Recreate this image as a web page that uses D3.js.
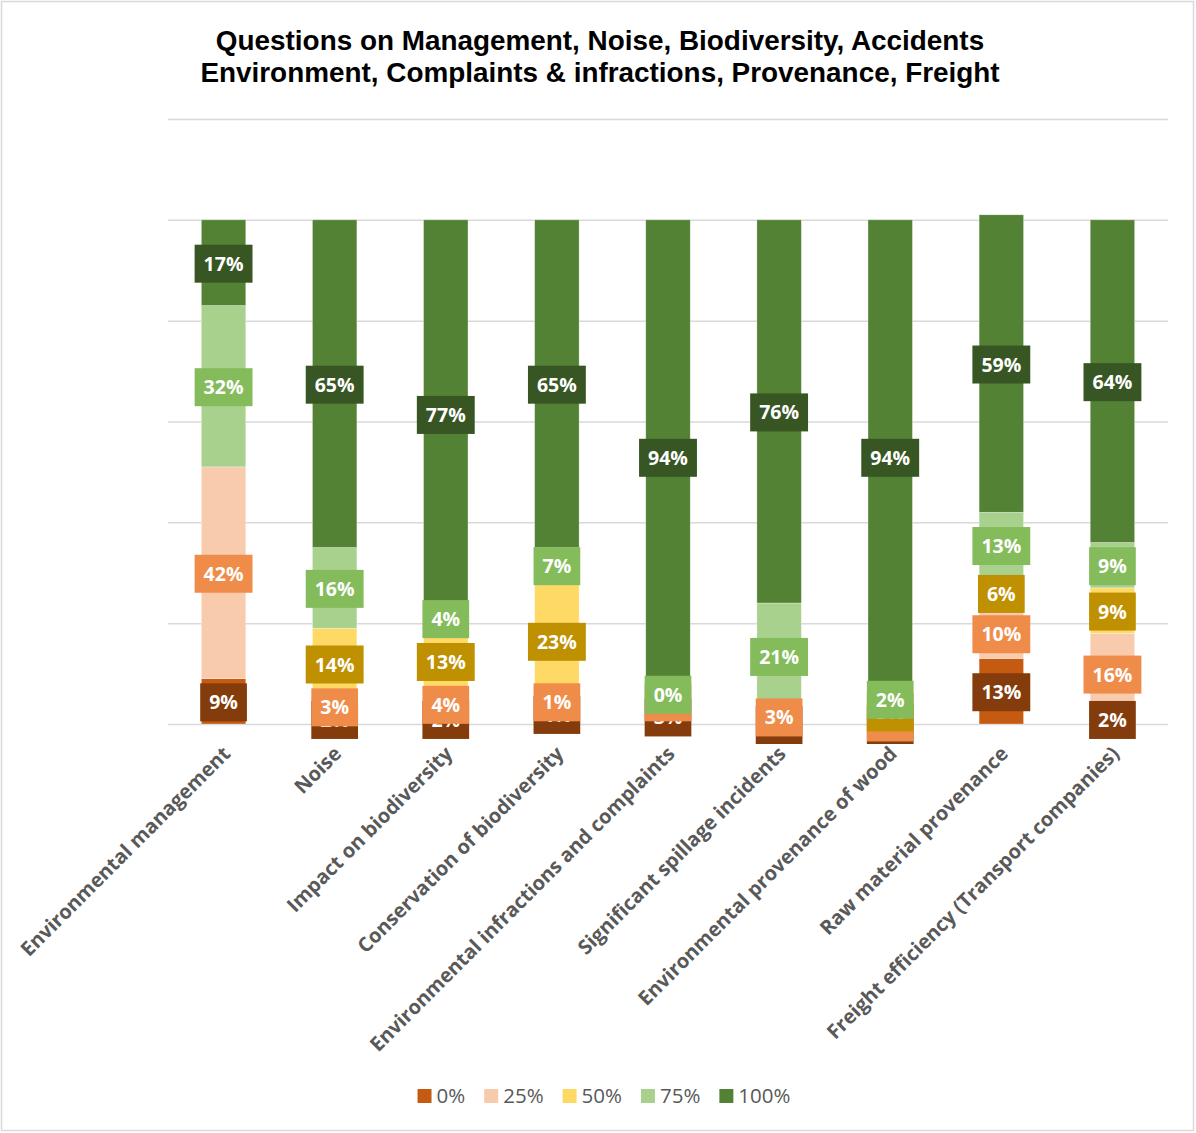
<!DOCTYPE html>
<html>
<head>
<meta charset="utf-8">
<script src="https://cdn.jsdelivr.net/npm/d3@7"></script>
<style>
  html, body { margin: 0; padding: 0; background: #fff; }
  svg { display: block; }
</style>
</head>
<body>
<svg id="chart" width="1196" height="1133"></svg>
<script>
// Survey answers per question, split by level of agreement (percent of respondents)
const categories = [
  "Environmental management",
  "Noise",
  "Impact on biodiversity",
  "Conservation of biodiversity",
  "Environmental infractions and complaints",
  "Significant spillage incidents",
  "Environmental provenance of wood",
  "Raw material provenance",
  "Freight efficiency (Transport companies)"
];
const seriesNames = ["0%", "25%", "50%", "75%", "100%"];
const values0   = [9, 2, 2, 4, 3, 0, 0, 13, 2];
const values25  = [42, 3, 4, 1, 3, 3, 1, 10, 16];
const values50  = [null, 14, 13, 23, null, null, 3, 6, 9];
const values75  = [32, 16, 4, 7, 0, 21, 2, 13, 9];
const values100 = [17, 65, 77, 65, 94, 76, 94, 59, 64];
const gridTicks = [0, 20, 40, 60, 80, 100, 120];
const titleLines = [
  "Questions on Management, Noise, Biodiversity, Accidents",
  "Environment, Complaints & infractions, Provenance, Freight"
];

const barColors   = ["#C55A11", "#F8CBAD", "#FFD966", "#A9D18E", "#548235"];
const labelColors = ["#843C0C", "#F08C4A", "#BF9000", "#84BC5C", "#375623"];

const seriesValues = [values0, values25, values50, values75, values100];
const table = categories.map((c, i) => {
  const row = { category: c };
  seriesNames.forEach((s, k) => { row[s] = seriesValues[k][i]; });
  return row;
});

const svg = d3.select("#chart");
const W = 1196, H = 1133;

// outer chart frame
svg.append("rect")
  .attr("x", 1.5).attr("y", 1.5).attr("width", W - 4).attr("height", H - 4)
  .attr("fill", "#fff").attr("stroke", "#d9d9d9").attr("stroke-width", 1.5);

const x = d3.scaleBand().domain(categories).range([168, 1168])
  .paddingInner(0.6).paddingOuter(0.3);
const y = d3.scaleLinear().domain([0, 120]).range([724, 119]);

// horizontal gridlines
const grid = svg.append("g").attr("transform", "translate(168,0)")
  .call(d3.axisLeft(y).tickValues(gridTicks).tickSize(-1000).tickFormat(""));
grid.select(".domain").remove();
grid.selectAll(".tick line").attr("stroke", "#d9d9d9").attr("stroke-width", 1.5);

// title
const title = svg.append("text")
  .attr("x", 600).attr("text-anchor", "middle")
  .attr("font-family", "'Liberation Sans', Arial, sans-serif")
  .attr("font-weight", "bold").attr("font-size", 26).attr("fill", "#000");
title.selectAll("tspan").data(titleLines).join("tspan")
  .attr("x", 600).attr("y", (d, i) => 50 + i * 32).text(d => d);
// fit title width
{
  const w = title.node().getBBox().width;
  const target = 800;
  title.attr("font-size", 26 * target / w);
}

// stacked bars
const stack = d3.stack().keys(seriesNames).value((d, k) => d[k] == null ? 0 : d[k]);
const layers = stack(table);

const barsG = svg.append("g");
layers.forEach((layer, k) => {
  barsG.append("g").attr("fill", barColors[k])
    .selectAll("rect")
    .data(layer.filter(d => d.data[seriesNames[k]] != null && d[1] > d[0]))
    .join("rect")
    .attr("x", d => x(d.data.category))
    .attr("width", x.bandwidth())
    .attr("y", d => y(d[1]))
    .attr("height", d => y(d[0]) - y(d[1]))
    .attr("stroke", "#ffffff").attr("stroke-width", 0.6).attr("stroke-opacity", 0.5);
});

// data labels: boxed, centered on each segment, later series drawn on top
const labelsG = svg.append("g")
  .attr("font-family", "'Open Sans', sans-serif")
  .attr("font-weight", "bold").attr("font-size", 19.5);
layers.forEach((layer, k) => {
  layer.filter(d => d.data[seriesNames[k]] != null).forEach(d => {
    const cx = x(d.data.category) + x.bandwidth() / 2;
    const cy = y((d[0] + d[1]) / 2) + 1;
    const g = labelsG.append("g");
    const rect = g.append("rect").attr("fill", labelColors[k]);
    const t = g.append("text")
      .attr("x", cx).attr("y", cy + 7)
      .attr("text-anchor", "middle").attr("fill", "#fff")
      .text(d.data[seriesNames[k]] + "%");
    const tw = t.node().getComputedTextLength();
    const bw = Math.max(tw + 18, x.bandwidth() + 2);
    rect.attr("x", cx - bw / 2).attr("y", cy - 19).attr("width", bw).attr("height", 38);
  });
});

// category axis labels, rotated
const catG = svg.append("g")
  .attr("font-family", "'Open Sans', sans-serif")
  .attr("font-weight", "bold").attr("font-size", 20).attr("fill", "#595959");
catG.selectAll("text").data(categories).join("text")
  .attr("text-anchor", "end")
  .attr("transform", d => `translate(${x(d) + x.bandwidth() / 2 + 8},${755}) rotate(-45)`)
  .text(d => d);

// legend
const legendG = svg.append("g")
  .attr("font-family", "'Open Sans', sans-serif")
  .attr("font-size", 20.5).attr("fill", "#595959");
let lx = 0;
seriesNames.forEach((s, k) => {
  const g = legendG.append("g");
  g.append("rect").attr("x", lx).attr("y", 1089).attr("width", 14).attr("height", 14)
    .attr("fill", barColors[k]);
  const t = g.append("text").attr("x", lx + 19).attr("y", 1103).text(s);
  const tw = t.node().getComputedTextLength();
  lx += 19 + tw + 19;
});
const legendWidth = lx - 19;
legendG.attr("transform", `translate(${604 - legendWidth / 2},0)`);
</script>
</body>
</html>
